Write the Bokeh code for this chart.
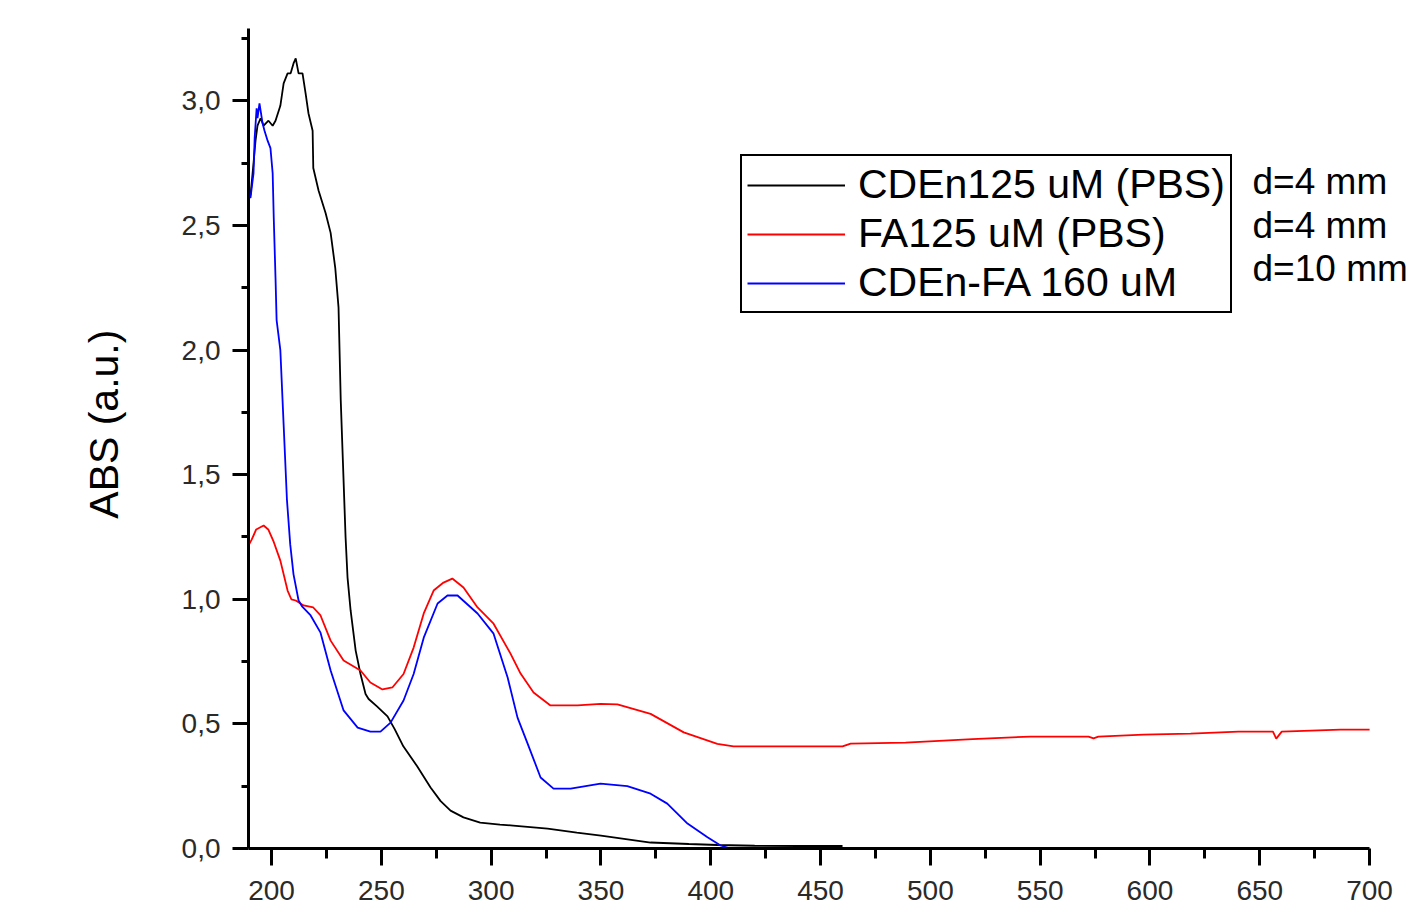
from bokeh.plotting import figure
from bokeh.models import (Range1d, FixedTicker, CustomJSTickFormatter, Legend,
                          LegendItem, Label)
from bokeh.embed import file_html
from bokeh.resources import INLINE

# ---------------- data ----------------
wl_cden = [189.5, 190.4, 191.8, 192.7, 193.6, 195.0, 196.4, 198.6, 200.5, 201.8,
           204.0, 205.5, 207.3, 208.7, 210.0, 211.0, 212.3, 214.1, 215.5, 216.8,
           218.7, 219.0, 221.4, 224.6, 226.9, 229.0, 230.5, 231.5, 232.5, 233.7,
           234.6, 236.0, 238.3, 240.5, 242.8, 244.2, 248.0, 252.8, 256.0, 260.0,
           266.3, 272.4, 277.0, 281.5, 287.4, 295.0, 304.0, 310.0, 325.7, 339.0,
           350.0, 372.6, 390.0, 403.0, 420.0, 440.0, 460.0]
abs_cden = [2.64, 2.62, 2.75, 2.84, 2.90, 2.93, 2.90, 2.92, 2.90, 2.92,
            2.98, 3.07, 3.11, 3.11, 3.15, 3.17, 3.11, 3.11, 3.03, 2.95,
            2.88, 2.73, 2.64, 2.55, 2.47, 2.33, 2.17, 1.80, 1.55, 1.25,
            1.087, 0.955, 0.794, 0.70, 0.62, 0.60, 0.57, 0.53, 0.48, 0.41,
            0.33, 0.245, 0.19, 0.152, 0.125, 0.104, 0.096, 0.092, 0.080, 0.064,
            0.052, 0.024, 0.018, 0.014, 0.011, 0.010, 0.010]

wl_fa = [189.5, 191.0, 193.0, 196.4, 198.5, 201.0, 204.0, 207.3, 209.0, 211.0,
         214.6, 219.0, 222.3, 226.9, 232.8, 240.5, 245.0, 250.5, 255.0, 260.1,
         264.7, 269.3, 273.8, 278.3, 282.3, 287.4, 293.8, 301.1, 308.8, 313.4,
         319.3, 327.0, 339.3, 349.8, 357.5, 372.6, 387.7, 403.0, 410.4, 460.0,
         463.7, 488.7, 519.2, 545.6, 572.0, 574.3, 576.5, 597.1, 618.5, 640.3,
         656.0, 657.5, 660.0, 686.8, 700.0]
abs_fa = [1.215, 1.24, 1.28, 1.296, 1.28, 1.23, 1.155, 1.035, 1.00, 0.995,
          0.975, 0.967, 0.935, 0.834, 0.754, 0.714, 0.666, 0.638, 0.646, 0.70,
          0.806, 0.943, 1.035, 1.067, 1.083, 1.047, 0.967, 0.902, 0.782, 0.702,
          0.626, 0.574, 0.574, 0.58, 0.578, 0.54, 0.466, 0.42, 0.41, 0.41,
          0.421, 0.425, 0.439, 0.449, 0.449, 0.442, 0.449, 0.457, 0.461, 0.469,
          0.469, 0.441, 0.469, 0.477, 0.477]

wl_cdenfa = [189.5, 190.4, 191.8, 192.3, 193.2, 193.6, 194.5, 195.9, 196.8, 198.2,
             199.5, 200.5, 201.0, 201.8, 202.3, 204.0, 205.5, 207.0, 208.5, 210.0,
             212.3, 214.0, 217.8, 222.3, 226.9, 232.8, 239.2, 245.0, 249.6, 254.2,
             260.1, 264.7, 269.3, 275.6, 280.1, 284.7, 293.8, 301.1, 307.5, 312.0,
             316.6, 322.5, 328.4, 336.2, 349.8, 362.0, 372.6, 380.2, 389.4, 398.5,
             404.5, 409.0, 413.6]
abs_cdenfa = [2.62, 2.61, 2.71, 2.85, 2.97, 2.93, 2.99, 2.91, 2.88, 2.84,
              2.81, 2.71, 2.53, 2.29, 2.12, 2.00, 1.70, 1.40, 1.22, 1.10,
              0.995, 0.97, 0.935, 0.866, 0.714, 0.554, 0.485, 0.469, 0.469, 0.505,
              0.594, 0.70, 0.846, 0.983, 1.015, 1.015, 0.943, 0.862, 0.686, 0.525,
              0.421, 0.285, 0.24, 0.24, 0.26, 0.25, 0.22, 0.18, 0.10, 0.045,
              0.012, 0.0, -0.008]

series_names = ["CDEn125 uM (PBS)", "FA125 uM (PBS)", "CDEn-FA 160 uM"]
series_colors = ["#000000", "#ff0000", "#0000ff"]
path_notes = ["d=4 mm", "d=4 mm", "d=10 mm"]
note_y = [2.677, 2.501, 2.328]

x_major = [200, 250, 300, 350, 400, 450, 500, 550, 600, 650, 700]
x_minor = [225, 275, 325, 375, 425, 475, 525, 575, 625, 675]
y_major = [0.0, 0.5, 1.0, 1.5, 2.0, 2.5, 3.0]
y_minor = [0.25, 0.75, 1.25, 1.75, 2.25, 2.75, 3.25]
y_labels = ["0,0", "0,5", "1,0", "1,5", "2,0", "2,5", "3,0"]

FONT = "Liberation Sans"

p = figure(width=1413, height=923, output_backend="svg", toolbar_location=None,
           x_range=Range1d(189.5, 720.0), y_range=Range1d(0, 3.29),
           min_border_left=248, min_border_right=0, min_border_top=28,
           min_border_bottom=75)
p.outline_line_color = None
p.grid.visible = False
p.background_fill_color = "white"
p.border_fill_color = "white"

renderers = []
for wl, ab, col in zip([wl_cden, wl_fa, wl_cdenfa],
                       [abs_cden, abs_fa, abs_cdenfa], series_colors):
    r = p.line(wl, ab, line_color=col, line_width=1.8)
    renderers.append(r)

# axes
xa = p.xaxis[0]
xa.ticker = FixedTicker(ticks=x_major, minor_ticks=x_minor)
xa.bounds = (189.5, 700)
ya = p.yaxis[0]
ya.ticker = FixedTicker(ticks=y_major, minor_ticks=y_minor)
ya.formatter = CustomJSTickFormatter(args=dict(ytk=y_major, ylab=y_labels), code="""
    for (let i = 0; i < ytk.length; i++) {
        if (Math.abs(ytk[i] - tick) < 1e-9) { return ylab[i]; }
    }
    return '';
""")
for ax in (xa, ya):
    ax.axis_line_width = 3
    ax.axis_line_color = "black"
    ax.major_tick_line_width = 3
    ax.minor_tick_line_width = 3
    ax.major_tick_line_color = "black"
    ax.minor_tick_line_color = "black"
    ax.major_tick_in = 0
    ax.minor_tick_in = 0
    ax.major_label_text_font = FONT
    ax.major_label_text_font_size = "28px"
    ax.major_label_text_color = "#2a2a2a"
xa.major_label_standoff = 15
ya.major_label_standoff = 12
xa.major_tick_out = 17
xa.minor_tick_out = 10
ya.major_tick_out = 16
ya.minor_tick_out = 7
# leading en-space + thin space lifts the centred label as in the reference
ya.axis_label = "\u2002\u2009ABS (a.u.)"
ya.axis_label_text_font = FONT
ya.axis_label_text_font_size = "41px"
ya.axis_label_text_font_style = "normal"
ya.axis_label_text_color = "black"
ya.axis_label_standoff = 52

legend = Legend(items=[LegendItem(label=n, renderers=[r])
                       for n, r in zip(series_names, renderers)],
                location=(492, 535), orientation="vertical",
                label_text_font=FONT, label_text_font_size="41px",
                label_text_color="black",
                glyph_width=98, glyph_height=40, label_height=40,
                label_standoff=13, spacing=2, padding=5, margin=0,
                border_line_color="black", border_line_width=2,
                border_line_alpha=1.0,
                background_fill_color="white", background_fill_alpha=1.0)
p.add_layout(legend, "center")

for txt, yv in zip(path_notes, note_y):
    p.add_layout(Label(x=646.7, y=yv, text=txt, text_font=FONT,
                       text_font_size="37px", text_color="black",
                       text_baseline="alphabetic", text_align="left"))

open("out.html", "w").write(file_html(p, INLINE))
